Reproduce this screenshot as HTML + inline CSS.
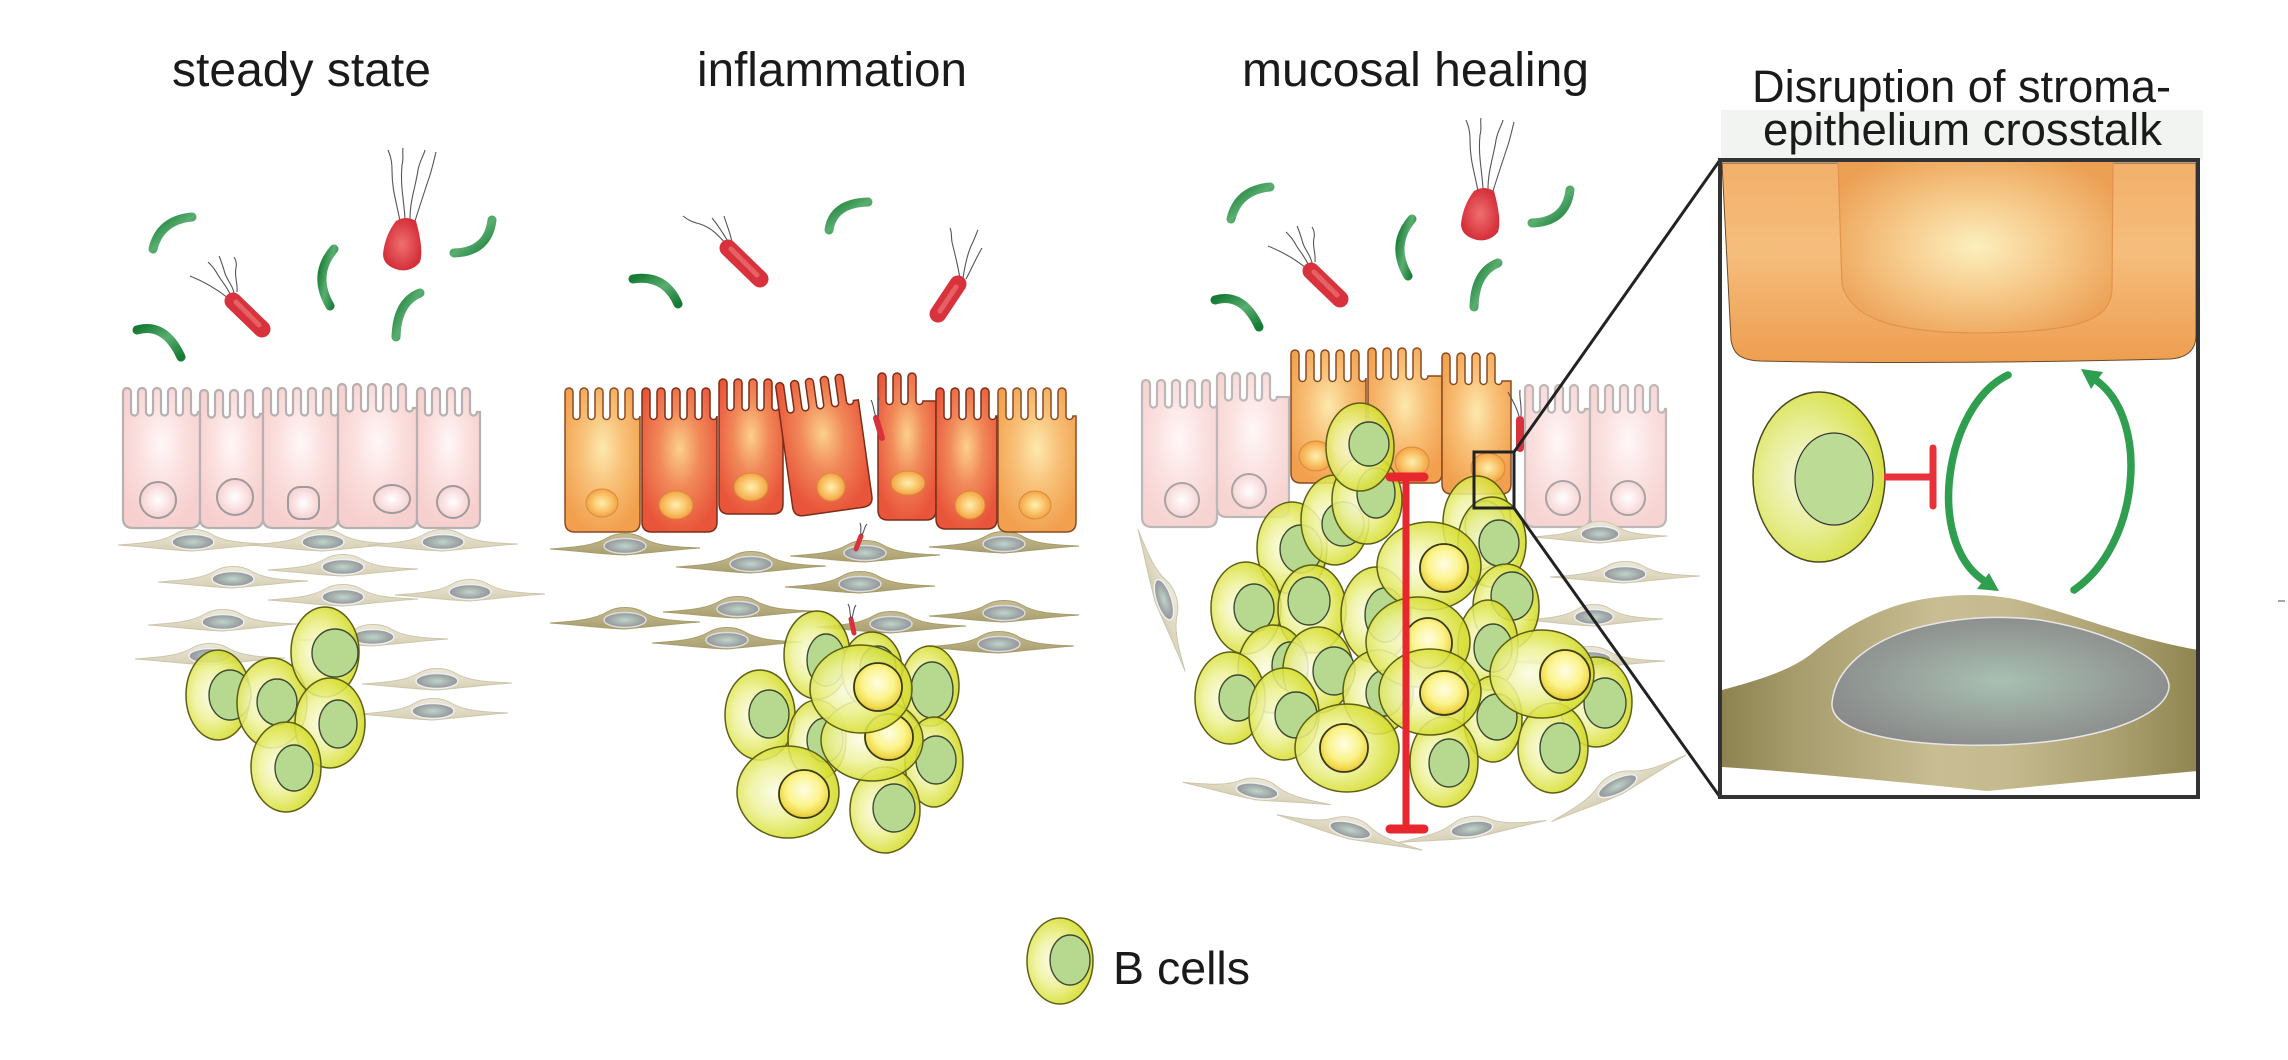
<!DOCTYPE html>
<html><head><meta charset="utf-8"><style>
html,body{margin:0;padding:0;background:#fff;}
svg{display:block}
.t{font-family:"Liberation Sans",Arial,sans-serif;fill:#1a1a1a}
.bo{fill:url(#bc);fill-opacity:.88;stroke:#5d5f14;stroke-width:1.5}
.gn{fill:#b6d98f;stroke:#3e4b34;stroke-width:1.4}
.yn{fill:url(#yn);stroke:#3a3a10;stroke-width:1.8}
.pk{fill:url(#pk);stroke:#b7b0b0;stroke-width:2.2}
.pkn{fill:url(#pkn);stroke:#a09a9a;stroke-width:2}
.or{fill:url(#or);stroke:#8a4a20;stroke-width:1.5}
.rd{fill:url(#rd);stroke:#7a2e18;stroke-width:1.5}
.on{fill:url(#orn);stroke:#d98a3a;stroke-width:1}
.fl{fill:none;stroke:#555;stroke-width:1.1}
.gr{fill:none;stroke:url(#grg);stroke-width:9;stroke-linecap:round}
.rr{stroke:#d8323c;stroke-width:17;stroke-linecap:round}
.rh{stroke:#f08080;stroke-width:5;stroke-linecap:round;opacity:.6}
</style></head><body>
<svg width="2288" height="1060" viewBox="0 0 2288 1060" xmlns="http://www.w3.org/2000/svg">
<defs>
<radialGradient id="bc" cx="0.42" cy="0.5" r="0.6" fx="0.38" fy="0.5">
<stop offset="0" stop-color="#fbfce6"/><stop offset="0.45" stop-color="#eef29a"/><stop offset="0.85" stop-color="#d8df35"/><stop offset="1" stop-color="#cfd62a"/></radialGradient>
<radialGradient id="yn" cx="0.5" cy="0.42" r="0.6">
<stop offset="0" stop-color="#fffde5"/><stop offset="0.55" stop-color="#fbf48c"/><stop offset="0.85" stop-color="#f0d84a"/><stop offset="1" stop-color="#d9b530"/></radialGradient>
<radialGradient id="pk" cx="0.5" cy="0.4" r="0.6">
<stop offset="0" stop-color="#fff7f7"/><stop offset="0.5" stop-color="#fbe0df"/><stop offset="1" stop-color="#f6d0ce"/></radialGradient>
<radialGradient id="pkn" cx="0.5" cy="0.5" r="0.5">
<stop offset="0" stop-color="#ffffff"/><stop offset="0.6" stop-color="#fbe3e3"/><stop offset="1" stop-color="#f5d2d2"/></radialGradient>
<radialGradient id="or" cx="0.5" cy="0.42" r="0.6">
<stop offset="0" stop-color="#fde9ad"/><stop offset="0.45" stop-color="#f8c27a"/><stop offset="1" stop-color="#f2a04e"/></radialGradient>
<radialGradient id="rd" cx="0.5" cy="0.42" r="0.6">
<stop offset="0" stop-color="#fcd08a"/><stop offset="0.45" stop-color="#f18a5a"/><stop offset="1" stop-color="#e9553a"/></radialGradient>
<radialGradient id="orn" cx="0.5" cy="0.5" r="0.5">
<stop offset="0" stop-color="#fff0b0"/><stop offset="0.6" stop-color="#fac46a"/><stop offset="1" stop-color="#f3a346"/></radialGradient>
<radialGradient id="gnu" cx="0.5" cy="0.5" r="0.5">
<stop offset="0" stop-color="#c0d4cc"/><stop offset="0.7" stop-color="#a0a8a6"/><stop offset="1" stop-color="#9494a0"/></radialGradient>
<linearGradient id="sp1" x1="0" y1="0" x2="0" y2="1"><stop offset="0" stop-color="#ece8d8"/><stop offset="1" stop-color="#d6cfb4"/></linearGradient>
<linearGradient id="sp2" x1="0" y1="0" x2="0" y2="1"><stop offset="0" stop-color="#c7bd93"/><stop offset="1" stop-color="#a99e6d"/></linearGradient>
<linearGradient id="grg" x1="0" y1="0" x2="1" y2="1"><stop offset="0" stop-color="#157a34"/><stop offset="0.5" stop-color="#5aae70"/><stop offset="1" stop-color="#157a34"/></linearGradient>
<radialGradient id="blob" cx="0.5" cy="0.5" r="0.5"><stop offset="0" stop-color="#ee7070"/><stop offset="1" stop-color="#d6303a"/></radialGradient>
<linearGradient id="ior" x1="0" y1="0" x2="0" y2="1"><stop offset="0" stop-color="#f2b06a"/><stop offset="0.45" stop-color="#f5bd7c"/><stop offset="1" stop-color="#ee9e50"/></linearGradient>
<radialGradient id="inu" cx="0.5" cy="0.5" r="0.6"><stop offset="0" stop-color="#fcefbd"/><stop offset="0.5" stop-color="#f6c888"/><stop offset="1" stop-color="#eca054"/></radialGradient>
<linearGradient id="ist" x1="0" y1="0" x2="1" y2="0"><stop offset="0" stop-color="#8c834f"/><stop offset="0.15" stop-color="#a69b6b"/><stop offset="0.45" stop-color="#c8bd93"/><stop offset="0.6" stop-color="#c5ba8f"/><stop offset="0.85" stop-color="#a79d6c"/><stop offset="1" stop-color="#8e8550"/></linearGradient>
<radialGradient id="isn" cx="0.5" cy="0.5" r="0.55"><stop offset="0" stop-color="#a8c0b2"/><stop offset="1" stop-color="#8a8a8a"/></radialGradient>
<radialGradient id="ibc" cx="0.4" cy="0.5" r="0.6"><stop offset="0" stop-color="#f6f8e0"/><stop offset="0.5" stop-color="#e8ee98"/><stop offset="1" stop-color="#d6df40"/></radialGradient>
<clipPath id="ic"><rect x="1722" y="162" width="474" height="633"/></clipPath>
<g id="s1"><path d="M-75,2 C-45,0 -30,-2 -18,-9 C-8,-15 8,-15 18,-9 C30,-2 45,0 75,1 C45,3 25,6 0,8 C-25,7 -45,4 -75,2Z" fill="url(#sp1)" stroke="#cdc6ac" stroke-width="1"/><ellipse cx="0" cy="-1" rx="21" ry="7.5" fill="url(#gnu)" stroke="#efefef" stroke-width="1.5"/></g>
<g id="s2"><path d="M-75,2 C-45,0 -30,-2 -18,-9 C-8,-15 8,-15 18,-9 C30,-2 45,0 75,1 C45,3 25,6 0,8 C-25,7 -45,4 -75,2Z" fill="url(#sp2)" stroke="#a79c6c" stroke-width="1"/><ellipse cx="0" cy="-1" rx="21" ry="7.5" fill="url(#gnu)" stroke="#dcdcdc" stroke-width="1.5"/></g>
<g id="bact1">
<path class="gr" d="M192 217 Q160 220 153 249"/>
<path class="gr" d="M137 330 Q165 322 181 357"/>
<path class="gr" d="M334 249 Q312 275 330 306"/>
<path class="gr" d="M454 253 Q488 252 492 220"/>
<path class="gr" d="M420 293 Q397 302 396 337"/>
<path class="fl" d="M231 296 C226 285 222 282 218 275 C214 268 212 266 208 262"/>
<path class="fl" d="M234 293 C232 283 226 280 224 270 C222 264 221 260 219 256"/>
<path class="fl" d="M237 292 C238 283 234 276 236 268 C237 263 236 260 234 257"/>
<path class="fl" d="M228 298 C218 290 205 282 190 276"/>
<line class="rr" x1="233" y1="301" x2="262" y2="329"/>
<line class="rh" x1="236" y1="302" x2="259" y2="325"/>
<path class="fl" d="M400 221 C396 200 392 190 392 170 C392 160 390 155 388 150"/>
<path class="fl" d="M405 219 C404 200 400 185 402 165 C404 158 402 152 403 148"/>
<path class="fl" d="M410 219 C410 200 416 185 418 170 C420 160 424 155 425 150"/>
<path class="fl" d="M415 221 C420 205 425 190 430 175 C433 165 434 160 436 152"/>
<path d="M396 221 Q406 215 416 221 Q424 250 420 262 Q412 272 399 270 Q383 266 383 254 Q385 235 396 221Z" fill="url(#blob)"/>
</g>
</defs>
<rect width="2288" height="1060" fill="#fff"/>

<!-- titles -->
<text class="t" x="172" y="86" font-size="48" textLength="259" lengthAdjust="spacingAndGlyphs">steady state</text>
<text class="t" x="697" y="86" font-size="48" textLength="270" lengthAdjust="spacingAndGlyphs">inflammation</text>
<text class="t" x="1242" y="86" font-size="48" textLength="347" lengthAdjust="spacingAndGlyphs">mucosal healing</text>

<!-- ===== PANEL 1 ===== -->
<use href="#bact1"/>
<use href="#s1" transform="translate(193,543)"/>
<use href="#s1" transform="translate(323,543)"/>
<use href="#s1" transform="translate(443,543)"/>
<use href="#s1" transform="translate(343,568)"/>
<use href="#s1" transform="translate(233,580)"/>
<use href="#s1" transform="translate(470,593)"/>
<use href="#s1" transform="translate(343,598)"/>
<use href="#s1" transform="translate(223,623)"/>
<use href="#s1" transform="translate(373,638)"/>
<use href="#s1" transform="translate(210,657)"/>
<use href="#s1" transform="translate(437,682)"/>
<use href="#s1" transform="translate(433,712)"/>
<g>
<path class="pk" d="M123 518V412v-20a4 4 0 0 1 8 0v20a3.5 3.5 0 0 0 7 0v-20a4 4 0 0 1 8 0v20a3.5 3.5 0 0 0 7 0v-20a4 4 0 0 1 8 0v20a3.5 3.5 0 0 0 7 0v-20a4 4 0 0 1 8 0v20a3.5 3.5 0 0 0 7 0v-20a4 4 0 0 1 8 0v20a3.5 3.5 0 0 0 7 0H200V518Q200 528 190 528H133Q123 528 123 518Z"/>
<path class="pk" d="M200 518V414v-20a4 4 0 0 1 8 0v20a3.5 3.5 0 0 0 7 0v-20a4 4 0 0 1 8 0v20a3.5 3.5 0 0 0 7 0v-20a4 4 0 0 1 8 0v20a3.5 3.5 0 0 0 7 0v-20a4 4 0 0 1 8 0v20a3.5 3.5 0 0 0 7 0H263V518Q263 528 253 528H210Q200 528 200 518Z"/>
<path class="pk" d="M263 518V412v-20a4 4 0 0 1 8 0v20a3.5 3.5 0 0 0 7 0v-20a4 4 0 0 1 8 0v20a3.5 3.5 0 0 0 7 0v-20a4 4 0 0 1 8 0v20a3.5 3.5 0 0 0 7 0v-20a4 4 0 0 1 8 0v20a3.5 3.5 0 0 0 7 0v-20a4 4 0 0 1 8 0v20a3.5 3.5 0 0 0 7 0H338V518Q338 528 328 528H273Q263 528 263 518Z"/>
<path class="pk" d="M338 518V408v-20a4 4 0 0 1 8 0v20a3.5 3.5 0 0 0 7 0v-20a4 4 0 0 1 8 0v20a3.5 3.5 0 0 0 7 0v-20a4 4 0 0 1 8 0v20a3.5 3.5 0 0 0 7 0v-20a4 4 0 0 1 8 0v20a3.5 3.5 0 0 0 7 0v-20a4 4 0 0 1 8 0v20a3.5 3.5 0 0 0 7 0H417V518Q417 528 407 528H348Q338 528 338 518Z"/>
<path class="pk" d="M417 518V412v-20a4 4 0 0 1 8 0v20a3.5 3.5 0 0 0 7 0v-20a4 4 0 0 1 8 0v20a3.5 3.5 0 0 0 7 0v-20a4 4 0 0 1 8 0v20a3.5 3.5 0 0 0 7 0v-20a4 4 0 0 1 8 0v20a3.5 3.5 0 0 0 7 0H480V518Q480 528 470 528H427Q417 528 417 518Z"/>
<circle class="pkn" cx="158" cy="500" r="18"/>
<circle class="pkn" cx="235" cy="497" r="18"/>
<rect class="pkn" x="288" y="487" width="31" height="32" rx="12"/>
<ellipse class="pkn" cx="392" cy="499" rx="18" ry="14"/>
<circle class="pkn" cx="453" cy="502" r="16"/>
</g>
<g>
<ellipse class="bo" cx="218" cy="695" rx="32" ry="45"/><ellipse class="gn" cx="230" cy="695" rx="21" ry="25"/>
<ellipse class="bo" cx="272" cy="703" rx="35" ry="45"/><ellipse class="gn" cx="277" cy="702" rx="20" ry="23"/>
<ellipse class="bo" cx="325" cy="652" rx="34" ry="45"/><ellipse class="gn" cx="335" cy="653" rx="23" ry="24"/>
<ellipse class="bo" cx="330" cy="723" rx="35" ry="45"/><ellipse class="gn" cx="338" cy="724" rx="19" ry="24"/>
<ellipse class="bo" cx="286" cy="767" rx="35" ry="45"/><ellipse class="gn" cx="294" cy="768" rx="19" ry="23"/>
</g>

<!-- ===== PANEL 2 ===== -->
<path class="gr" d="M633 279 Q665 274 678 304"/>
<path class="gr" d="M829 230 Q833 203 868 202"/>
<path class="fl" d="M727 245 C718 235 712 228 700 224 C692 222 688 220 683 216"/>
<path class="fl" d="M729 243 C722 232 718 225 712 218"/>
<path class="fl" d="M732 242 C730 232 727 226 724 216"/>
<line class="rr" x1="728" y1="248" x2="760" y2="279"/>
<line class="rh" x1="731" y1="249" x2="757" y2="275"/>
<path class="fl" d="M960 279 C958 265 955 255 952 242 C951 236 952 232 950 228"/>
<path class="fl" d="M963 278 C965 265 968 252 972 244 C975 238 976 234 978 230"/>
<path class="fl" d="M966 279 C972 268 976 258 982 248"/>
<line class="rr" x1="958" y1="284" x2="938" y2="314"/>
<line class="rh" x1="956" y1="287" x2="940" y2="311"/>

<use href="#s2" transform="translate(625,547)"/>
<use href="#s2" transform="translate(751,565)"/>
<use href="#s2" transform="translate(865,554)"/>
<use href="#s2" transform="translate(1004,545)"/>
<use href="#s2" transform="translate(860,585)"/>
<use href="#s2" transform="translate(625,621)"/>
<use href="#s2" transform="translate(738,610)"/>
<use href="#s2" transform="translate(891,625)"/>
<use href="#s2" transform="translate(1004,614)"/>
<use href="#s2" transform="translate(727,641)"/>
<use href="#s2" transform="translate(999,645)"/>
<g>
<path class="or" d="M565 522V416v-24a4 4 0 0 1 8 0v24a3.5 3.5 0 0 0 7 0v-24a4 4 0 0 1 8 0v24a3.5 3.5 0 0 0 7 0v-24a4 4 0 0 1 8 0v24a3.5 3.5 0 0 0 7 0v-24a4 4 0 0 1 8 0v24a3.5 3.5 0 0 0 7 0v-24a4 4 0 0 1 8 0v24a3.5 3.5 0 0 0 7 0H640V522Q640 532 630 532H575Q565 532 565 522Z"/>
<path class="rd" d="M642 522V416v-24a4 4 0 0 1 8 0v24a3.5 3.5 0 0 0 7 0v-24a4 4 0 0 1 8 0v24a3.5 3.5 0 0 0 7 0v-24a4 4 0 0 1 8 0v24a3.5 3.5 0 0 0 7 0v-24a4 4 0 0 1 8 0v24a3.5 3.5 0 0 0 7 0v-24a4 4 0 0 1 8 0v24a3.5 3.5 0 0 0 7 0H717V522Q717 532 707 532H652Q642 532 642 522Z"/>
<path class="rd" d="M719 504V407v-24a4 4 0 0 1 8 0v24a3.5 3.5 0 0 0 7 0v-24a4 4 0 0 1 8 0v24a3.5 3.5 0 0 0 7 0v-24a4 4 0 0 1 8 0v24a3.5 3.5 0 0 0 7 0v-24a4 4 0 0 1 8 0v24a3.5 3.5 0 0 0 7 0H783V504Q783 514 773 514H729Q719 514 719 504Z"/>
<path class="rd" transform="rotate(-8 825 450)" d="M785 502V405v-24a4 4 0 0 1 8 0v24a3.5 3.5 0 0 0 7 0v-24a4 4 0 0 1 8 0v24a3.5 3.5 0 0 0 7 0v-24a4 4 0 0 1 8 0v24a3.5 3.5 0 0 0 7 0v-24a4 4 0 0 1 8 0v24a3.5 3.5 0 0 0 7 0v-24a4 4 0 0 1 8 0v24a3.5 3.5 0 0 0 7 0H865V502Q865 512 855 512H795Q785 512 785 502Z"/>
<path class="rd" d="M878 510V401v-24a4 4 0 0 1 8 0v24a3.5 3.5 0 0 0 7 0v-24a4 4 0 0 1 8 0v24a3.5 3.5 0 0 0 7 0v-24a4 4 0 0 1 8 0v24a3.5 3.5 0 0 0 7 0H936V510Q936 520 926 520H888Q878 520 878 510Z"/>
<path class="rd" d="M936 519V416v-24a4 4 0 0 1 8 0v24a3.5 3.5 0 0 0 7 0v-24a4 4 0 0 1 8 0v24a3.5 3.5 0 0 0 7 0v-24a4 4 0 0 1 8 0v24a3.5 3.5 0 0 0 7 0v-24a4 4 0 0 1 8 0v24a3.5 3.5 0 0 0 7 0H997V519Q997 529 987 529H946Q936 529 936 519Z"/>
<path class="or" d="M998 522V416v-24a4 4 0 0 1 8 0v24a3.5 3.5 0 0 0 7 0v-24a4 4 0 0 1 8 0v24a3.5 3.5 0 0 0 7 0v-24a4 4 0 0 1 8 0v24a3.5 3.5 0 0 0 7 0v-24a4 4 0 0 1 8 0v24a3.5 3.5 0 0 0 7 0v-24a4 4 0 0 1 8 0v24a3.5 3.5 0 0 0 7 0H1076V522Q1076 532 1066 532H1008Q998 532 998 522Z"/>
<ellipse class="on" cx="602" cy="503" rx="16" ry="14"/>
<ellipse class="on" cx="676" cy="505" rx="17" ry="14"/>
<ellipse class="on" cx="751" cy="487" rx="17" ry="14"/>
<ellipse class="on" cx="831" cy="487" rx="14" ry="14" fill="url(#rd)"/>
<ellipse class="on" cx="908" cy="483" rx="17" ry="12"/>
<ellipse class="on" cx="970" cy="505" rx="15" ry="14"/>
<ellipse class="on" cx="1035" cy="505" rx="16" ry="14"/>
<line x1="876" y1="418" x2="882" y2="438" stroke="#d8323c" stroke-width="6" stroke-linecap="round"/>
<path class="fl" d="M876 417 C873 410 874 405 871 400 M878 416 C879 408 877 404 879 398"/>
<line x1="861" y1="536" x2="856" y2="549" stroke="#d8323c" stroke-width="5" stroke-linecap="round"/>
<path class="fl" d="M861 535 C860 530 862 528 860 523 M862 535 C865 530 864 527 867 524"/>
<line x1="851" y1="619" x2="854" y2="633" stroke="#d8323c" stroke-width="5" stroke-linecap="round"/>
<path class="fl" d="M851 618 C849 612 851 609 848 604 M852 618 C854 612 853 609 856 605"/>
</g>
<g>
<ellipse class="bo" cx="817" cy="655" rx="33" ry="44"/><ellipse class="gn" cx="826" cy="660" rx="19" ry="26"/>
<ellipse class="bo" cx="930" cy="686" rx="29" ry="40"/><ellipse class="gn" cx="932" cy="690" rx="21" ry="28"/>
<ellipse class="bo" cx="760" cy="715" rx="35" ry="45"/><ellipse class="gn" cx="769" cy="714" rx="20" ry="24"/>
<ellipse class="bo" cx="817" cy="740" rx="29" ry="40"/><ellipse class="gn" cx="825" cy="740" rx="18" ry="22"/>
<ellipse class="bo" cx="872" cy="670" rx="30" ry="38"/><ellipse class="gn" cx="878" cy="668" rx="18" ry="22"/>
<ellipse class="bo" cx="934" cy="762" rx="29" ry="45"/><ellipse class="gn" cx="936" cy="760" rx="20" ry="24"/>
<ellipse class="bo" cx="885" cy="810" rx="35" ry="43"/><ellipse class="gn" cx="894" cy="808" rx="21" ry="24"/>
<ellipse class="bo" cx="788" cy="792" rx="51" ry="46"/><ellipse class="yn" cx="804" cy="794" rx="25" ry="24"/>
<ellipse class="bo" cx="872" cy="740" rx="51" ry="41"/><ellipse class="yn" cx="889" cy="737" rx="24" ry="23"/>
<ellipse class="bo" cx="861" cy="689" rx="51" ry="44"/><ellipse class="yn" cx="878" cy="687" rx="24" ry="24"/>
</g>

<!-- ===== PANEL 3 ===== -->
<use href="#bact1" transform="translate(1078,-30)"/>
<g opacity="0.9">
<path class="pk" d="M1142 517V404v-20a4 4 0 0 1 8 0v20a3.5 3.5 0 0 0 7 0v-20a4 4 0 0 1 8 0v20a3.5 3.5 0 0 0 7 0v-20a4 4 0 0 1 8 0v20a3.5 3.5 0 0 0 7 0v-20a4 4 0 0 1 8 0v20a3.5 3.5 0 0 0 7 0v-20a4 4 0 0 1 8 0v20a3.5 3.5 0 0 0 7 0H1217V517Q1217 527 1207 527H1152Q1142 527 1142 517Z"/>
<path class="pk" d="M1217 507V397v-20a4 4 0 0 1 8 0v20a3.5 3.5 0 0 0 7 0v-20a4 4 0 0 1 8 0v20a3.5 3.5 0 0 0 7 0v-20a4 4 0 0 1 8 0v20a3.5 3.5 0 0 0 7 0v-20a4 4 0 0 1 8 0v20a3.5 3.5 0 0 0 7 0H1289V507Q1289 517 1279 517H1227Q1217 517 1217 507Z"/>
<path class="pk" d="M1525 517V409v-20a4 4 0 0 1 8 0v20a3.5 3.5 0 0 0 7 0v-20a4 4 0 0 1 8 0v20a3.5 3.5 0 0 0 7 0v-20a4 4 0 0 1 8 0v20a3.5 3.5 0 0 0 7 0v-20a4 4 0 0 1 8 0v20a3.5 3.5 0 0 0 7 0H1590V517Q1590 527 1580 527H1535Q1525 527 1525 517Z"/>
<path class="pk" d="M1590 517V409v-20a4 4 0 0 1 8 0v20a3.5 3.5 0 0 0 7 0v-20a4 4 0 0 1 8 0v20a3.5 3.5 0 0 0 7 0v-20a4 4 0 0 1 8 0v20a3.5 3.5 0 0 0 7 0v-20a4 4 0 0 1 8 0v20a3.5 3.5 0 0 0 7 0v-20a4 4 0 0 1 8 0v20a3.5 3.5 0 0 0 7 0H1666V517Q1666 527 1656 527H1600Q1590 527 1590 517Z"/>
<circle class="pkn" cx="1182" cy="500" r="17"/>
<circle class="pkn" cx="1249" cy="491" r="17"/>
<circle class="pkn" cx="1563" cy="498" r="17"/>
<circle class="pkn" cx="1628" cy="498" r="17"/>
</g>
<g>
<path class="or" d="M1291 473V378v-24a4 4 0 0 1 8 0v24a3.5 3.5 0 0 0 7 0v-24a4 4 0 0 1 8 0v24a3.5 3.5 0 0 0 7 0v-24a4 4 0 0 1 8 0v24a3.5 3.5 0 0 0 7 0v-24a4 4 0 0 1 8 0v24a3.5 3.5 0 0 0 7 0v-24a4 4 0 0 1 8 0v24a3.5 3.5 0 0 0 7 0H1366V473Q1366 483 1356 483H1301Q1291 483 1291 473Z"/>
<path class="or" d="M1368 473V376v-24a4 4 0 0 1 8 0v24a3.5 3.5 0 0 0 7 0v-24a4 4 0 0 1 8 0v24a3.5 3.5 0 0 0 7 0v-24a4 4 0 0 1 8 0v24a3.5 3.5 0 0 0 7 0v-24a4 4 0 0 1 8 0v24a3.5 3.5 0 0 0 7 0H1442V473Q1442 483 1432 483H1378Q1368 483 1368 473Z"/>
<path class="or" d="M1442 484V381v-24a4 4 0 0 1 8 0v24a3.5 3.5 0 0 0 7 0v-24a4 4 0 0 1 8 0v24a3.5 3.5 0 0 0 7 0v-24a4 4 0 0 1 8 0v24a3.5 3.5 0 0 0 7 0v-24a4 4 0 0 1 8 0v24a3.5 3.5 0 0 0 7 0H1511V484Q1511 494 1501 494H1452Q1442 494 1442 484Z"/>
<ellipse class="on" cx="1316" cy="456" rx="17" ry="15"/>
<ellipse class="on" cx="1412" cy="462" rx="17" ry="15"/>
<ellipse class="on" cx="1488" cy="468" rx="17" ry="15"/>
<line x1="1520" y1="420" x2="1520" y2="448" stroke="#d8323c" stroke-width="8" stroke-linecap="round"/>
<path class="fl" d="M1519 416 C1516 405 1512 400 1508 392 M1521 416 C1522 405 1519 398 1520 390"/>
</g>
<use href="#s1" transform="translate(1163,600) rotate(72)"/>
<use href="#s1" transform="translate(1600,535) scale(0.9,1)"/>
<use href="#s1" transform="translate(1625,575)"/>
<use href="#s1" transform="translate(1594,618) scale(0.92,1)"/>
<use href="#s1" transform="translate(1590,660)"/>
<use href="#s1" transform="translate(1257,792) rotate(9)"/>
<use href="#s1" transform="translate(1350,831) rotate(14)"/>
<use href="#s1" transform="translate(1472,830) rotate(-8)"/>
<use href="#s1" transform="translate(1618,787) rotate(-26)"/>
<g>
<ellipse class="bo" cx="1292" cy="548" rx="35" ry="46"/><ellipse class="gn" cx="1301" cy="549" rx="21" ry="24"/>
<ellipse class="bo" cx="1335" cy="520" rx="34" ry="45"/><ellipse class="gn" cx="1343" cy="524" rx="21" ry="22"/>
<ellipse class="bo" cx="1477" cy="523" rx="34" ry="47"/><ellipse class="gn" cx="1485" cy="525" rx="20" ry="24"/>
<ellipse class="bo" cx="1492" cy="542" rx="34" ry="45"/><ellipse class="gn" cx="1499" cy="543" rx="20" ry="23"/>
<ellipse class="bo" cx="1246" cy="608" rx="35" ry="46"/><ellipse class="gn" cx="1254" cy="608" rx="20" ry="24"/>
<ellipse class="bo" cx="1312" cy="609" rx="34" ry="44"/><ellipse class="gn" cx="1309" cy="601" rx="21" ry="24"/>
<ellipse class="bo" cx="1376" cy="615" rx="35" ry="48"/><ellipse class="gn" cx="1385" cy="615" rx="20" ry="27"/>
<ellipse class="bo" cx="1506" cy="607" rx="33" ry="43"/><ellipse class="gn" cx="1512" cy="596" rx="21" ry="24"/>
<ellipse class="bo" cx="1367" cy="500" rx="35" ry="44"/><ellipse class="gn" cx="1376" cy="493" rx="19" ry="25"/>
<ellipse class="bo" cx="1360" cy="447" rx="34" ry="44"/><ellipse class="gn" cx="1369" cy="444" rx="20" ry="22"/>
<ellipse class="bo" cx="1273" cy="669" rx="35" ry="44"/><ellipse class="gn" cx="1290" cy="666" rx="18" ry="24"/>
<ellipse class="bo" cx="1318" cy="670" rx="35" ry="43"/><ellipse class="gn" cx="1334" cy="671" rx="21" ry="24"/>
<ellipse class="bo" cx="1488" cy="645" rx="30" ry="45"/><ellipse class="gn" cx="1493" cy="648" rx="19" ry="24"/>
<ellipse class="bo" cx="1230" cy="698" rx="35" ry="46"/><ellipse class="gn" cx="1238" cy="698" rx="19" ry="23"/>
<ellipse class="bo" cx="1284" cy="714" rx="35" ry="46"/><ellipse class="gn" cx="1296" cy="715" rx="21" ry="23"/>
<ellipse class="bo" cx="1378" cy="692" rx="35" ry="42"/><ellipse class="gn" cx="1385" cy="693" rx="19" ry="23"/>
<ellipse class="bo" cx="1493" cy="719" rx="29" ry="43"/><ellipse class="gn" cx="1497" cy="717" rx="20" ry="23"/>
<ellipse class="bo" cx="1596" cy="702" rx="36" ry="45"/><ellipse class="gn" cx="1605" cy="703" rx="21" ry="25"/>
<ellipse class="bo" cx="1553" cy="748" rx="35" ry="45"/><ellipse class="gn" cx="1560" cy="748" rx="20" ry="25"/>
<ellipse class="bo" cx="1444" cy="762" rx="34" ry="45"/><ellipse class="gn" cx="1449" cy="763" rx="20" ry="24"/>
<ellipse class="bo" cx="1347" cy="748" rx="52" ry="44"/><ellipse class="yn" cx="1344" cy="748" rx="24" ry="24"/>
<ellipse class="bo" cx="1429" cy="566" rx="52" ry="44"/><ellipse class="yn" cx="1444" cy="568" rx="24" ry="24"/>
<ellipse class="bo" cx="1418" cy="642" rx="52" ry="45"/><ellipse class="yn" cx="1428" cy="643" rx="24" ry="25"/>
<ellipse class="bo" cx="1430" cy="692" rx="51" ry="43"/><ellipse class="yn" cx="1444" cy="693" rx="24" ry="22"/>
<ellipse class="bo" cx="1542" cy="674" rx="52" ry="44"/><ellipse class="yn" cx="1565" cy="675" rx="25" ry="25"/>
</g>
<!-- red bar -->
<line x1="1406" y1="477" x2="1406" y2="829" stroke="#e8262e" stroke-width="7"/>
<line x1="1390" y1="477" x2="1424" y2="477" stroke="#e8262e" stroke-width="9" stroke-linecap="round"/>
<line x1="1390" y1="829" x2="1424" y2="829" stroke="#e8262e" stroke-width="9" stroke-linecap="round"/>
<!-- zoom square and lines -->
<rect x="1474" y="452" width="40" height="56" fill="none" stroke="#222" stroke-width="3"/>
<line x1="1514" y1="452" x2="1720" y2="160" stroke="#222" stroke-width="3"/>
<line x1="1514" y1="508" x2="1720" y2="797" stroke="#222" stroke-width="3"/>

<!-- ===== INSET ===== -->
<rect x="1721" y="110" width="482" height="50" fill="#f2f4f2"/>
<text class="t" x="1752" y="102" font-size="45" fill="#222" textLength="419" lengthAdjust="spacingAndGlyphs">Disruption of stroma-</text>
<text class="t" x="1763" y="145" font-size="45" fill="#222" textLength="399" lengthAdjust="spacingAndGlyphs">epithelium crosstalk</text>
<rect x="1720" y="160" width="478" height="637" fill="#fff"/>
<g clip-path="url(#ic)">
<path d="M1722 163 H2196 V335 C2196 352 2185 358 2170 359 C2050 362 1900 364 1760 361 C1738 360 1733 352 1731 340 Z" fill="url(#ior)" stroke="#6a4a2a" stroke-width="1"/>
<path d="M1838 160 H2113 L2112 290 C2110 322 2075 332 1975 333 C1890 332 1852 318 1842 285 Z" fill="url(#inu)" stroke="#e0934f" stroke-width="1.2"/>
<path d="M1722 690 C1760 680 1790 670 1810 655 C1840 630 1880 605 1930 598 C1965 593 2000 594 2030 603 C2090 620 2140 640 2198 650 V771 C2120 778 2050 785 1987 791 C1900 782 1800 772 1722 767 Z" fill="url(#ist)"/>
<path d="M1832 703 C1835 668 1870 640 1920 627 C1960 617 2000 615 2040 620 C2100 630 2165 655 2169 685 C2170 715 2100 742 2000 745 C1910 747 1830 735 1832 703 Z" fill="url(#isn)" stroke="#e6e6e6" stroke-width="1.5"/>
<ellipse cx="1819" cy="477" rx="66" ry="85" fill="url(#ibc)" stroke="#4a4a20" stroke-width="1.5"/>
<ellipse cx="1834" cy="479" rx="39" ry="46" fill="#bcdc96" stroke="#333" stroke-width="1.2"/>
<line x1="1884" y1="477" x2="1932" y2="477" stroke="#e8313a" stroke-width="7"/>
<line x1="1933" y1="448" x2="1933" y2="506" stroke="#e8313a" stroke-width="7" stroke-linecap="round"/>
<path d="M2008 375 C1945 405 1925 540 1983 580" fill="none" stroke="#2f9e4f" stroke-width="7.5" stroke-linecap="round"/>
<polygon points="1999,591 1977,589 1989,573" fill="#2f9e4f"/>
<path d="M2074 590 C2140 545 2150 420 2097 381" fill="none" stroke="#2f9e4f" stroke-width="7.5" stroke-linecap="round"/>
<polygon points="2081,369 2103,372 2091,389" fill="#2f9e4f"/>
</g>
<rect x="1720" y="160" width="478" height="637" fill="none" stroke="#333" stroke-width="4"/>
<line x1="2278" y1="601" x2="2285" y2="601" stroke="#888" stroke-width="1.5"/>

<!-- ===== LEGEND ===== -->
<ellipse class="bo" cx="1060" cy="961" rx="33" ry="43"/><ellipse class="gn" cx="1070" cy="960" rx="20" ry="25"/>
<text class="t" x="1113" y="984" font-size="46" textLength="137" lengthAdjust="spacingAndGlyphs">B cells</text>
</svg>
</body></html>
